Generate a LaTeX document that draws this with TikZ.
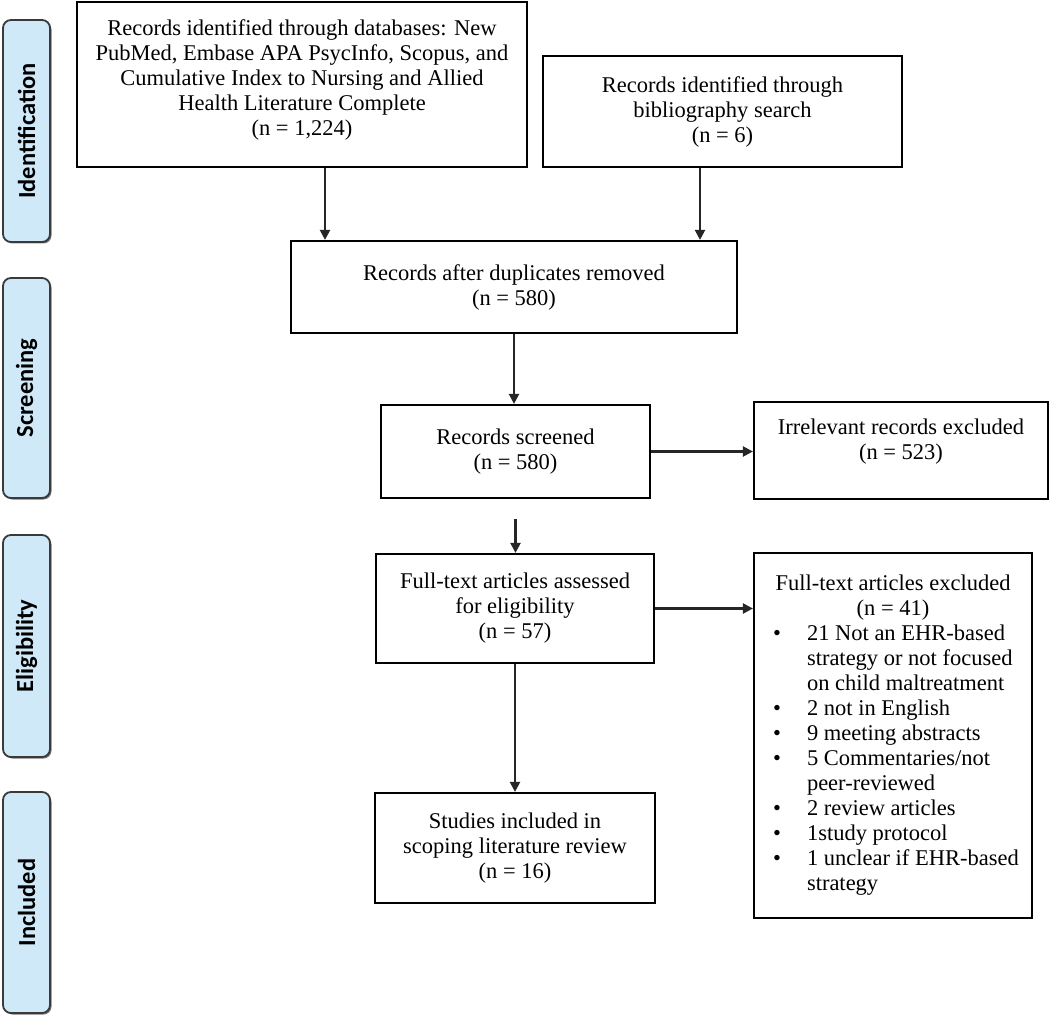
\documentclass[tikz,border=0pt]{standalone}
\usepackage{fontspec}
\setmainfont{Liberation Serif}
\newfontfamily\sidefont{Carlito}
\usetikzlibrary{arrows.meta,shadows,calc}
\definecolor{sideblue}{HTML}{D0E9F8}
\definecolor{sideedge}{HTML}{3A3A3A}
\newcommand{\bulitem}{\par\hangindent=50pt\hangafter=1\noindent\makebox[50pt][l]{\hspace{16pt}\textbullet}}
\begin{document}
\begin{tikzpicture}[x=1pt,y=-1pt,
  box/.style={draw=black, line width=2.2pt, rectangle, inner sep=0pt, align=center,
    font=\fontsize{22.5}{25}\selectfont},
  side/.style={draw=sideedge, line width=1.8pt, fill=sideblue, rounded corners=8pt,
    minimum width=47pt, inner sep=0pt, font=\sidefont\bfseries\fontsize{24.5}{26}\selectfont,
    drop shadow={shadow xshift=1.5pt,shadow yshift=-1.5pt,fill=black!55,opacity=1}},
  arr/.style={draw=black!85, line width=2.2pt, -{Triangle[length=10pt,width=10pt]}}]
\useasboundingbox (0,0) rectangle (1050,1016);

% phase bars
\node[side, minimum height=222pt] (s1) at (26.5,131) {\rotatebox{90}{Identification}};
\node[side, minimum height=220pt] (s2) at (26.5,388) {\rotatebox{90}{Screening}};
\node[side, minimum height=222pt] (s3) at (26.5,646) {\rotatebox{90}{Eligibility}};
\node[side, minimum height=221pt] (s4) at (26.5,902.5) {\rotatebox{90}{Included}};

% boxes
\node[box, minimum width=450pt, minimum height=165pt] (b1) at (302,84.5)
  {Records identified through databases: New\\PubMed, Embase APA PsycInfo, Scopus, and\\Cumulative Index to Nursing and Allied\\Health Literature Complete\\(n = 1,224)\rule[-14pt]{0pt}{14pt}};
\node[box, minimum width=359pt, minimum height=111pt] (b2) at (722.5,111.5)
  {Records identified through\\bibliography search\\(n = 6)};
\node[box, minimum width=446pt, minimum height=92pt] (b3) at (514,287)
  {Records after duplicates removed\\(n = 580)};
\node[box, minimum width=269pt, minimum height=93pt] (b4) at (515.5,451.5)
  {Records screened\\(n = 580)};
\node[box, minimum width=294pt, minimum height=97pt] (b5) at (901,450.5)
  {Irrelevant records excluded\\(n = 523)\rule[-23pt]{0pt}{23pt}};
\node[box, minimum width=278pt, minimum height=109pt] (b6) at (515,608.5)
  {Full-text articles assessed\\for eligibility\\(n = 57)};
\node[box, minimum width=278pt, minimum height=365pt] (b7) at (893,735.5)
  {\begin{minipage}{272pt}
   {\centering Full-text articles excluded\\(n = 41)\par}
   \bulitem 21 Not an EHR-based\newline strategy or not focused\newline on child maltreatment
   \bulitem 2 not in English
   \bulitem 9 meeting abstracts
   \bulitem 5 Commentaries/not\newline peer-reviewed
   \bulitem 2 review articles
   \bulitem 1study protocol
   \bulitem 1 unclear if EHR-based\newline strategy\par
   \end{minipage}};
\node[box, minimum width=280pt, minimum height=110pt] (b8) at (515,848)
  {Studies included in\\scoping literature review\\(n = 16)};

% connectors
\draw[arr] ([xshift=23pt]b1.south) -- ([xshift=23pt]b1.south |- b3.north);
\draw[arr] ([xshift=-22.5pt]b2.south) -- ([xshift=-22.5pt]b2.south |- b3.north);
\draw[arr] (b3.south) -- (b3.south |- b4.north);
\draw[arr] (b4.east) -- (b4.east -| b5.west);
\coordinate (c1) at ([yshift=-20pt]b4.south);
\draw[arr] (c1) -- (c1 |- b6.north);
\draw[arr] (b6.east) -- (b6.east -| b7.west);
\draw[arr] (b6.south) -- (b6.south |- b8.north);
\end{tikzpicture}
\end{document}
